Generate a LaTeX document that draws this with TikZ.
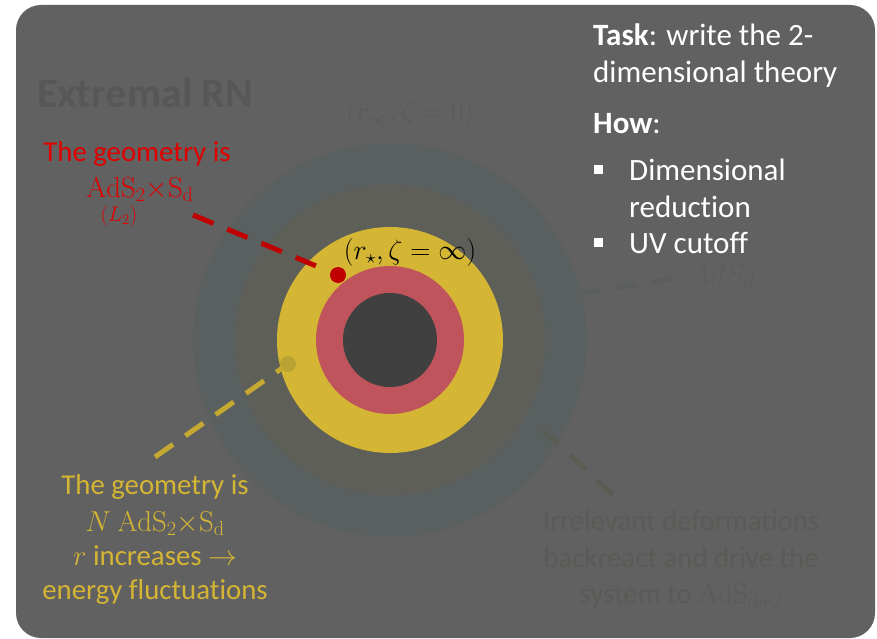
\documentclass[tikz,border=0pt]{standalone}
\usepackage{fix-cm}
\usepackage[no-math]{fontspec}
\setmainfont{Carlito}[Ligatures={NoCommon}]
\usetikzlibrary{calc}

\definecolor{slide}{HTML}{616161}
\definecolor{ringouter}{HTML}{5A5F5F}
\definecolor{ringmid}{HTML}{5E5F59}
\definecolor{gold}{HTML}{D4B534}
\definecolor{rose}{HTML}{BF545C}
\definecolor{core}{HTML}{404040}
\definecolor{alert}{HTML}{E00000}
\definecolor{alertdark}{HTML}{C00000}
\definecolor{golddim}{HTML}{C4A832}
\definecolor{golddot}{HTML}{B8A233}
\definecolor{ghost}{HTML}{575757}
\definecolor{ghostlabel}{HTML}{5B5B5B}
\definecolor{ghostnote}{HTML}{5A5B56}
\definecolor{ghostads}{HTML}{5A5E5E}
\definecolor{ghostdash}{HTML}{5B5D55}

\tikzset{
  body/.style={font=\fontsize{28.8pt}{35pt}\selectfont, inner sep=0pt, anchor=base},
  panel/.style={font=\fontsize{31pt}{35pt}\selectfont, inner sep=0pt, text=white, anchor=base west},
  leader/.style={line width=5pt, dash pattern=on 22pt off 15pt},
  marker/.style={circle, inner sep=0pt, minimum size=16pt},
  bulletbox/.style={fill=white, inner sep=0pt, minimum size=9pt},
}

\begin{document}
\begin{tikzpicture}[x=1pt,y=-1pt]
\useasboundingbox (0,0) rectangle (877,639);

% slide panel
\fill[slide, rounded corners=25pt] (16,5) rectangle (875,638);

% concentric regions of the extremal black hole
\fill[ringouter] (390,340) circle[radius=197pt];
\fill[ringmid]   (390,340) circle[radius=155pt];
\fill[gold]      (390,340) circle[radius=113pt];
\fill[rose]      (390,340) circle[radius=74pt];
\fill[core]      (390,340) circle[radius=47pt];

% title
\node[font=\fontsize{42pt}{48pt}\selectfont\bfseries, text=ghost, inner sep=0pt, anchor=base west]
  (title) at (37,108) {Extremal RN};

% boundary and horizon labels
\node[font=\fontsize{28pt}{32pt}\selectfont, text=ghostlabel, inner sep=0pt, anchor=base]
  (boundary) at (410,121) {\((r_\infty,\zeta=0)\)};
\node[font=\fontsize{28pt}{32pt}\selectfont, text=black, inner sep=0pt, anchor=base]
  (horizon) at (410,259) {\((r_\star,\zeta=\infty)\)};

% near-horizon annotation
\node[body, text=alert] (redA) at (137,161) {The geometry is};
\node[body, text=alert] (redB) at (140,197) {\(\mathrm{AdS}_2{\times}\mathrm{S}_\mathrm{d}\)};
\node[body, text=alert, font=\fontsize{21pt}{24pt}\selectfont] (redC) at (119,221) {\((L_2)\)};
\coordinate (redtail) at (193,215);
\node[marker, fill=alertdark] (reddot) at (338,275) {};
\draw[leader, alertdark, shorten >=22pt] (redtail) -- (reddot.center);

% intermediate region annotation
\node[body, text=gold] (yelA) at (155,494) {The geometry is};
\node[body, text=gold] (yelB) at (155,531) {\(N\ \mathrm{AdS}_2{\times}\mathrm{S}_\mathrm{d}\)};
\node[body, text=gold] (yelC) at (155,565) {\(r\) increases \(\rightarrow\)};
\node[body, text=gold] (yelD) at (155,599) {energy fluctuations};
\coordinate (yeltail) at (155,457);
\node[marker, fill=golddot] (yeldot) at (288,364) {};
\draw[leader, golddim, shorten >=6pt] (yeltail) -- (yeldot.center);

% asymptotic region annotation
\node[font=\fontsize{30pt}{34pt}\selectfont, text=ghostads, inner sep=0pt, anchor=base west]
  (ads) at (688,285) {\(AdS_{d+2}\)};
\coordinate (adstail) at (673,279);
\coordinate (adsring) at (580,293);
\draw[leader, ghostads] (adstail) -- (adsring);

\node[body, text=ghostnote] (noteA) at (681,530) {Irrelevant deformations};
\node[body, text=ghostnote] (noteB) at (681,567) {backreact and drive the};
\node[body, text=ghostnote] (noteC) at (681,603) {system to \(\mathrm{AdS}_{\mathrm{d+2}}\)};
\coordinate (notetail) at (613,495);
\coordinate (notering) at (543,430);
\draw[leader, ghostdash] (notetail) -- (notering);

% task panel
\node[panel] (taskA) at (593,46) {\textbf{Task}: write the 2-};
\node[panel] (taskB) at (593,83) {dimensional theory};
\node[panel] (howA)  at (593,134) {\textbf{How}:};
\node[bulletbox] (bulA) at (598.5,170) {};
\node[panel] (howB)  at (629,181) {Dimensional};
\node[panel] (howC)  at (629,217) {reduction};
\node[bulletbox] (bulB) at (598.5,242) {};
\node[panel] (howD)  at (629,253) {UV cutoff};
\end{tikzpicture}
\end{document}
